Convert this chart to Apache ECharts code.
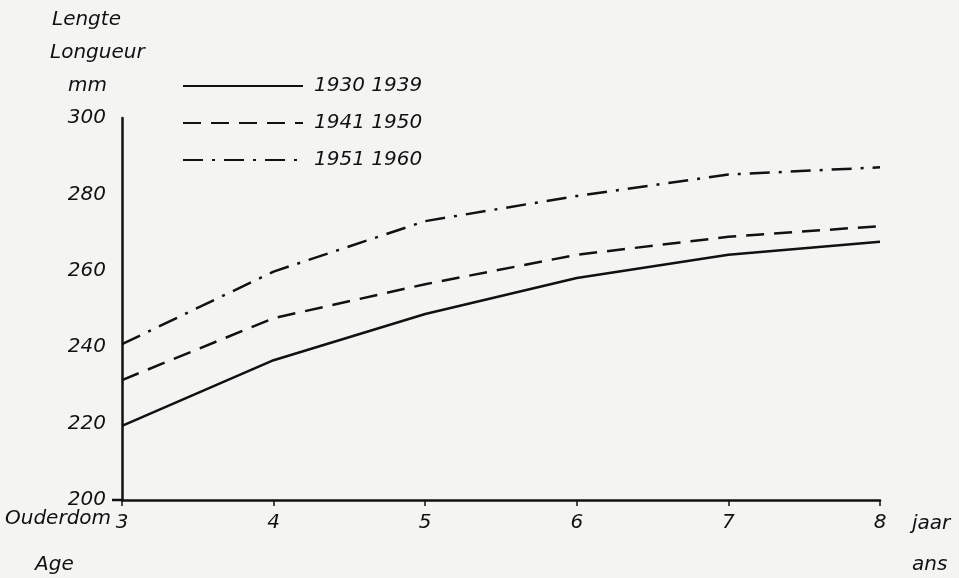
<!DOCTYPE html>
<html>
<head>
<meta charset="utf-8">
<script src="https://cdn.jsdelivr.net/npm/echarts@6/dist/echarts.min.js"></script>
<style>
html,body{margin:0;padding:0;background:#f4f4f3;}
#c{width:959px;height:578px;}
</style>
</head>
<body>
<div id="c"></div>
<script>
var ages = [3, 4, 5, 6, 7, 8];
var yTicks = [200, 220, 240, 260, 280, 300];
var seriesNames = ['1930 1939', '1941 1950', '1951 1960'];
var s1930_1939 = [219.4, 236.6, 248.7, 258.1, 264.2, 267.6];
var s1941_1950 = [231.4, 247.6, 256.5, 264.2, 268.9, 271.7];
var s1951_1960 = [240.8, 259.8, 273.0, 279.6, 285.2, 287.1];

function pairs(vals){ return ages.map(function(a,i){ return [a, vals[i]]; }); }

var FONT = 'DejaVu Sans';
var F = 'italic 20px "DejaVu Sans"';

var chart = echarts.init(document.getElementById('c'));
chart.setOption({
  backgroundColor: '#f4f4f3',
  animation: false,
  grid: {left: 122, right: 79, top: 118, bottom: 78},
  legend: {
    orient: 'vertical',
    left: 182, top: 76, padding: 0,
    itemWidth: 120, itemHeight: 14, itemGap: 17,
    itemStyle: {opacity: 0},
    textStyle: {fontFamily: FONT, fontStyle: 'italic', fontSize: 20, color: '#111', padding: [0,0,0,6]},
    data: seriesNames
  },
  xAxis: {
    type: 'value', min: 3, max: 8, interval: 1,
    axisLine: {show: true, lineStyle: {color: '#111', width: 2.5}},
    axisTick: {show: true, length: 6, inside: false, lineStyle: {color: '#111', width: 1.5}},
    splitLine: {show: false},
    axisLabel: {fontFamily: FONT, fontStyle: 'italic', fontSize: 20, color: '#111', margin: 13}
  },
  yAxis: {
    type: 'value', min: yTicks[0], max: yTicks[yTicks.length-1], interval: 20,
    axisLine: {show: true, lineStyle: {color: '#111', width: 2.5}},
    axisTick: {show: false},
    splitLine: {show: false},
    axisLabel: {fontFamily: FONT, fontStyle: 'italic', fontSize: 20, color: '#111', margin: 16}
  },
  series: [
    {name: seriesNames[0], type: 'line', data: pairs(s1930_1939), symbol: 'none',
     lineStyle: {color: '#111', width: 2.5, type: 'solid'}, itemStyle: {color: '#111'}},
    {name: seriesNames[1], type: 'line', data: pairs(s1941_1950), symbol: 'none',
     lineStyle: {color: '#111', width: 2.5, type: [18, 10]}, itemStyle: {color: '#111'}},
    {name: seriesNames[2], type: 'line', data: pairs(s1951_1960), symbol: 'none',
     lineStyle: {color: '#111', width: 2.5, type: [20, 9, 3, 9]}, itemStyle: {color: '#111'}}
  ],
  graphic: [
    {type: 'text', left: 52, top: 10, style: {text: 'Lengte', font: F, fill: '#111'}},
    {type: 'text', left: 50, top: 43, style: {text: 'Longueur', font: F, fill: '#111'}},
    {type: 'text', left: 68, top: 76, style: {text: 'mm', font: F, fill: '#111'}},
    {type: 'text', left: 5, top: 509, style: {text: 'Ouderdom', font: F, fill: '#111'}},
    {type: 'text', left: 35, top: 555, style: {text: 'Age', font: F, fill: '#111'}},
    {type: 'text', left: 912, top: 514, style: {text: 'jaar', font: F, fill: '#111'}},
    {type: 'text', left: 912, top: 555, style: {text: 'ans', font: F, fill: '#111'}},
    {type: 'line', shape: {x1: 112, y1: 500, x2: 122, y2: 500}, style: {stroke: '#111', lineWidth: 2.5}}
  ]
});
</script>
</body>
</html>
